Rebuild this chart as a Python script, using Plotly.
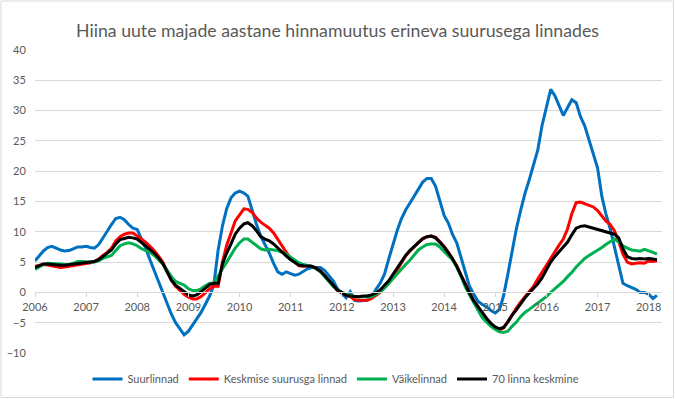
import pandas as pd
import plotly.graph_objects as go

months = pd.date_range("2006-01-01", periods=147, freq="MS")

suurlinnad = [
    5.2, 6.0, 6.8, 7.4, 7.6, 7.3, 7.0, 6.85, 6.9, 7.2, 7.5, 7.5,
    7.6, 7.4, 7.3, 7.9, 8.9, 10.1, 11.2, 12.2, 12.4, 12.0, 11.2, 10.6,
    10.4, 8.9, 7.3, 5.4, 3.6, 2.0, 0.2, -1.8, -3.6, -5.0, -6.0, -7.0,
    -6.4, -5.3, -4.2, -3.3, -2.0, -0.6, 1.2, 7.0, 11.0, 13.8, 15.6, 16.4,
    16.7, 16.4, 15.9, 13.5, 11.3, 9.3, 8.0, 6.5, 4.8, 3.4, 3.0, 3.4,
    3.1, 2.85, 3.0, 3.5, 3.9, 4.1, 4.1, 4.1, 3.6, 2.8, 1.9, 0.6,
    -0.2, -0.9, 0.1, -1.3, -1.4, -1.4, -1.3, -0.8, 0.5, 1.5, 3.0, 5.5,
    8.0, 10.3, 12.1, 13.6, 14.7, 15.9, 17.1, 18.2, 18.8, 18.8, 17.5, 15.0,
    12.7, 11.4, 9.6, 8.2, 5.8, 3.0, 1.0, -0.3, -1.5, -2.0, -2.4, -3.0,
    -3.4, -2.8, -0.6, 3.0, 6.8, 10.5, 13.5, 16.3, 18.6, 21.0, 23.5, 27.5,
    30.7, 33.5, 32.5, 30.8, 29.2, 30.5, 31.8, 31.3, 29.0, 27.5, 25.2, 23.0,
    20.5, 15.8, 13.0, 10.5, 7.5, 4.0, 1.5, 1.1, 0.8, 0.5, 0.0, 0.0,
    -0.3, -1.0, -0.5,
]

keskmised = [
    4.3, 4.5, 4.6, 4.5, 4.4, 4.2, 4.1, 4.2, 4.3, 4.4, 4.5, 4.6,
    4.7, 4.9, 5.1, 5.5, 6.1, 6.6, 7.3, 8.5, 9.2, 9.6, 9.8, 9.8,
    9.3, 8.8, 8.3, 7.6, 6.9, 6.0, 5.0, 3.5, 2.0, 1.0, 0.3, -0.3,
    -0.8, -1.1, -1.1, -0.7, -0.1, 0.6, 1.0, 1.0, 5.0, 7.8, 9.8, 11.8,
    12.8, 13.8, 13.7, 13.2, 12.3, 11.6, 11.1, 10.6, 9.8, 8.7, 7.6, 6.6,
    5.6, 4.9, 4.4, 4.3, 4.4, 4.3, 4.0, 3.5, 2.7, 1.9, 1.0, 0.3,
    -0.1, -0.5, -0.7, -1.2, -1.3, -1.3, -1.3, -1.0, -0.5, 0.0, 0.8, 1.5,
    2.6, 3.8, 5.0, 6.0, 6.8, 7.6, 8.2, 8.8, 9.2, 9.3, 9.1, 8.4,
    7.6, 6.6, 5.6, 4.4, 2.9, 1.3, 0.0, -1.4, -2.5, -3.6, -4.5, -5.3,
    -5.9, -6.2, -5.9, -4.8, -3.6, -2.6, -1.6, -0.7, 0.1, 1.0, 2.2, 3.3,
    4.6, 5.8, 6.8, 7.8, 8.8, 10.5, 13.0, 14.8, 14.9, 14.6, 14.4, 14.1,
    13.5, 12.6, 11.8, 11.2, 10.2, 8.4, 6.3, 5.0, 4.7, 4.8, 4.9, 4.8,
    5.2, 5.1, 5.2,
]

vaikelinnad = [
    3.8, 4.2, 4.6, 4.8, 4.8, 4.8, 4.7, 4.6, 4.6, 4.8, 5.1, 5.1,
    5.0, 5.0, 5.0, 5.2, 5.6, 5.8, 6.1, 6.9, 7.7, 8.0, 8.2, 8.0,
    7.7, 7.2, 6.9, 6.6, 6.1, 5.4, 4.7, 3.7, 2.6, 1.8, 1.5, 1.2,
    0.6, 0.3, 0.3, 0.6, 1.1, 1.5, 1.5, 2.6, 3.9, 5.0, 6.2, 7.3,
    8.2, 8.8, 8.8, 8.3, 7.8, 7.2, 7.0, 7.1, 7.0, 6.9, 6.6, 6.3,
    5.8, 5.3, 4.9, 4.6, 4.4, 4.3, 3.9, 3.4, 2.6, 1.8, 1.0, 0.4,
    0.0, -0.3, -0.5, -0.7, -0.7, -0.7, -0.7, -0.7, -0.3, 0.1, 0.7, 1.5,
    2.3, 3.0, 3.8, 4.6, 5.3, 6.2, 7.0, 7.5, 7.9, 8.0, 8.0, 7.5,
    6.7, 6.0, 5.4, 4.2, 2.7, 0.9, -0.4, -1.8, -3.0, -4.2, -5.0, -5.6,
    -6.1, -6.5, -6.6, -6.4, -5.6, -4.9, -4.0, -3.3, -2.8, -2.3, -1.8, -1.3,
    -0.7, 0.0, 0.6, 1.1, 1.8, 2.6, 3.3, 4.2, 5.0, 5.6, 6.1, 6.5,
    7.0, 7.4, 7.9, 8.4, 8.8, 8.3, 7.7, 7.3, 7.0, 6.9, 6.8, 7.1,
    6.9, 6.6, 6.3,
]

keskmine70 = [
    4.1, 4.4, 4.7, 4.7, 4.6, 4.6, 4.5, 4.5, 4.6, 4.7, 4.8, 4.8,
    4.9, 5.0, 5.1, 5.4, 5.9, 6.4, 7.0, 8.0, 8.7, 8.9, 9.1, 9.0,
    8.8, 8.2, 7.7, 7.1, 6.5, 5.7, 4.8, 3.4, 2.0, 1.2, 0.7, 0.1,
    -0.4, -0.6, -0.4, 0.1, 0.7, 1.3, 1.5, 1.5, 4.7, 6.5, 8.0, 9.6,
    10.6, 11.3, 11.5, 11.0, 10.2, 9.2, 8.8, 8.5, 8.0, 7.3, 6.6, 6.0,
    5.4, 4.9, 4.5, 4.4, 4.4, 4.3, 4.0, 3.5, 2.8, 2.0, 1.1, 0.4,
    0.0, -0.5, -0.6, -0.7, -0.7, -0.6, -0.6, -0.4, -0.1, 0.4, 1.1, 1.9,
    3.0, 4.1, 5.2, 6.1, 6.9, 7.6, 8.3, 8.9, 9.2, 9.3, 9.0, 8.3,
    7.5, 6.5, 5.6, 4.3, 2.8, 1.2, -0.1, -1.4, -2.4, -3.4, -4.3, -5.1,
    -5.7, -6.0, -5.8, -4.9, -3.8, -2.9, -1.9, -0.9, -0.1, 0.6, 1.4, 2.4,
    3.8, 5.0, 5.9, 6.7, 7.4, 8.3, 9.5, 10.6, 10.9, 11.0, 10.8, 10.6,
    10.4, 10.1, 9.9, 9.8, 9.6, 9.0, 7.2, 5.9, 5.6, 5.5, 5.6, 5.5,
    5.6, 5.5, 5.4,
]

series = [
    ("Suurlinnad", suurlinnad, "#0070C0"),
    ("Keskmise suurusga linnad", keskmised, "#FF0000"),
    ("Väikelinnad", vaikelinnad, "#00B050"),
    ("70 linna keskmine", keskmine70, "#000000"),
]

title_text = "Hiina uute majade aastane hinnamuutus erineva suurusega linnades"
FONT = "Lato, 'Open Sans', sans-serif"
GRAY = "#595959"

fig = go.Figure()
for name, vals, col in series:
    fig.add_trace(go.Scatter(x=months, y=vals, name=name, mode="lines",
                             line=dict(color=col, width=3)))

W, H = 675, 399
L, R, T, B = 35, 13, 50, 46
pw, ph = W - L - R, H - T - B

fig.update_layout(
    width=W, height=H,
    margin=dict(l=L, r=R, t=T, b=B, autoexpand=False),
    paper_bgcolor="white", plot_bgcolor="white",
    font=dict(family=FONT, color=GRAY, size=11),
    title=dict(text=title_text, x=0.5, xref="container", xanchor="center",
               y=1 - 31 / H, yref="container", yanchor="middle",
               font=dict(family=FONT, size=17.7, color=GRAY)),
    showlegend=True,
    legend=dict(orientation="h", x=(336 - L) / pw, xanchor="center",
                y=-(379 - (H - B)) / ph, yanchor="middle",
                font=dict(family=FONT, size=11, color=GRAY),
                itemwidth=30, tracegroupgap=0, bgcolor="rgba(0,0,0,0)"),
    xaxis=dict(type="date", range=["2006-01-01", "2018-04-06"],
               dtick="M12", tick0="2006-01-01", tickformat="%Y",
               showgrid=False, zeroline=False, automargin=False,
               showline=True, linecolor="#D9D9D9", linewidth=1,
               ticks="outside", ticklen=4, tickcolor="#D9D9D9",
               anchor="free", position=0.2,
               tickfont=dict(family=FONT, size=11, color=GRAY)),
    yaxis=dict(range=[-10, 40], dtick=5, tick0=0, automargin=False,
               showgrid=True, gridcolor="#D9D9D9", gridwidth=1,
               zeroline=False, showline=False,
               ticks="outside", ticklen=6, tickcolor="rgba(0,0,0,0)",
               tickfont=dict(family=FONT, size=11, color=GRAY)),
    shapes=[dict(type="rect", xref="paper", yref="paper",
                 x0=(1 - L) / pw, x1=(673.5 - L) / pw,
                 y0=-(397.5 - (H - B)) / ph, y1=(H - B - 1) / ph,
                 line=dict(color="#D9D9D9", width=1), fillcolor="rgba(0,0,0,0)",
                 layer="below")],
)

fig.write_html("out.html", config={"displayModeBar": False},
               post_script="document.body.style.margin='0';document.body.style.padding='0';")
